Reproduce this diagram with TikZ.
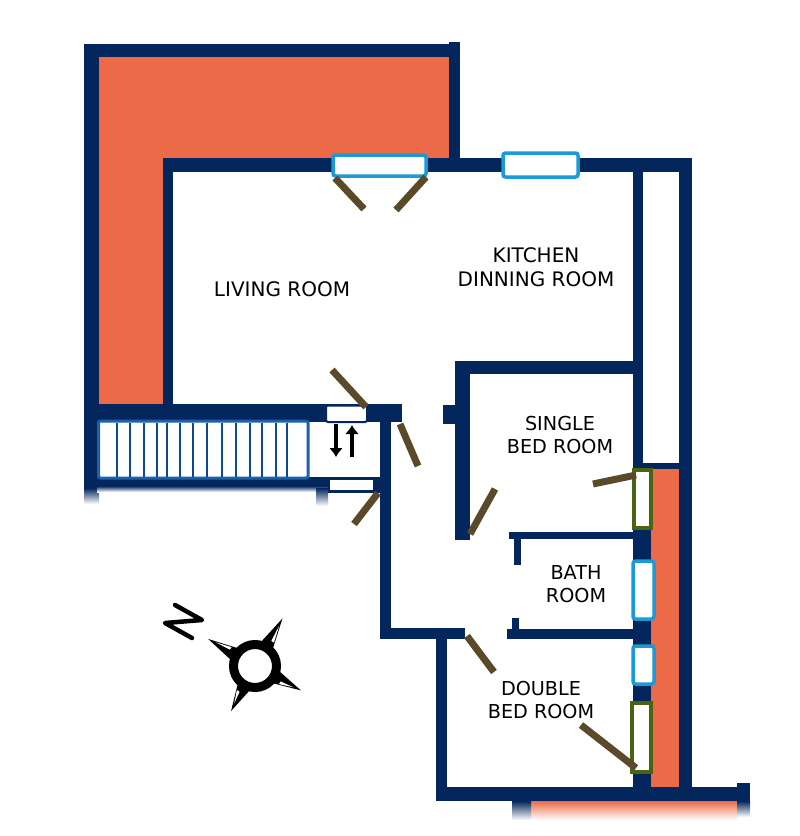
\documentclass[tikz,border=0pt]{standalone}
\usepackage{fontspec}
\usetikzlibrary{arrows.meta}
\setmainfont{DejaVu Sans}
\definecolor{wallblue}{HTML}{03265C}
\definecolor{terrace}{HTML}{EC6A47}
\definecolor{glassblue}{HTML}{1A9AD6}
\definecolor{glassgreen}{HTML}{4A6414}
\definecolor{doorbrown}{HTML}{5A4A2A}
\definecolor{stairblue}{HTML}{1A62AD}
\definecolor{stairdark}{HTML}{0E4A8E}
\tikzset{
	wall/.style={fill=wallblue},
	terr/.style={fill=terrace},
	fade/.style={top color=wallblue,bottom color=white},
	doorleaf/.style={draw=doorbrown,line width=7pt},
	bluepane/.style={draw=glassblue,fill=white,line width=3.5pt,rounded corners=2.5pt},
	greenpane/.style={draw=glassgreen,fill=white,line width=3.5pt},
	room/.style={font=\fontsize{20}{23.5}\selectfont,align=center,text=black,inner sep=0pt},
	smallroom/.style={room,font=\fontsize{19.2}{23.5}\selectfont},
}
\begin{document}
\begin{tikzpicture}[x=1pt,y=-1pt]
	\useasboundingbox[fill=white] (0,0) rectangle (800,836);
	% terraces
	\fill[terr] (99,57) -- (449,57) -- (449,159) -- (163,159) -- (163,406) -- (99,406) -- cycle;
	\fill[terr] (651,469) rectangle (679,790);
	\shade[top color=terrace,bottom color=white] (531,801) rectangle (737,820);
	% outer walls
	\fill[wall] (84,44) rectangle (449,57);
	\fill[wall] (449,42) rectangle (460,172);
	\fill[wall] (84,44) rectangle (99,488);
	\fill[wall] (163,158) rectangle (692,172);
	\fill[wall] (163,158) rectangle (173,406);
	\fill[wall] (679,159) rectangle (692,801);
	\fill[wall] (633,172) rectangle (643,470);
	\fill[wall] (643,463) rectangle (680,469);
	\fill[wall] (633,470) rectangle (651,790);
	\fill[wall] (436,787) rectangle (750,801);
	\fill[wall] (737,783) rectangle (750,801);
	\shade[fade] (737,801) rectangle (750,817);
	\shade[fade] (512,801) rectangle (531,820);
	% stairs landing
	\fill[wall] (99,404) rectangle (402,422);
	\fill[wall] (380,422) rectangle (391,639);
	\fill[wall] (97,477) rectangle (380,486);
	\shade[fade] (84,488) rectangle (99,504);
	\shade[fade] (97,486) rectangle (328,492);
	\shade[fade] (316,488) rectangle (328,506);
	\fill[white] (309,422) rectangle (380,477);
	\fill[wallblue] (328,477) rectangle (380,493);
	\fill[white] (330,480) rectangle (373,490);
	% inner walls
	\fill[wall] (380,628) rectangle (465,639);
	\fill[wall] (436,628) rectangle (447,790);
	\fill[wall] (455,361) rectangle (635,374);
	\fill[wall] (455,361) rectangle (470,540);
	\fill[wall] (443,405) rectangle (456,424);
	\fill[wall] (509,532) rectangle (635,539);
	\fill[wall] (514,532) rectangle (521,565);
	\fill[wall] (507,629) rectangle (635,639);
	\fill[wall] (512,618) rectangle (519,630);
	% stairs
	\draw[stairblue,line width=3pt,fill=white,rounded corners=2pt] (98.5,421) rectangle (308,478);
	\foreach \stepx in {117,130,144,157,167,180,193,207,222,236,250,262,276,287}
		\draw[stairdark,line width=2.5pt] (\stepx,423) -- (\stepx,477);
	% windows
	\draw[bluepane] (333,155) rectangle (426,176);
	\draw[bluepane] (503,153) rectangle (578,177);
	\draw[bluepane] (633,561) rectangle (654,619);
	\draw[bluepane] (633,646) rectangle (654,684);
	\draw[greenpane] (634,470) rectangle (651,528);
	\draw[greenpane] (632,703) rectangle (651,772);
	\draw[wallblue,line width=2pt,fill=white,rounded corners=2pt] (326,405.5) rectangle (367,422);
	% doors
	\draw[doorleaf] (335,178) -- (364,209);
	\draw[doorleaf] (426,177) -- (396,210);
	\draw[doorleaf] (366,407) -- (332,370);
	\draw[doorleaf] (400,424) -- (418,466);
	\draw[doorleaf] (378,493) -- (354,524);
	\draw[doorleaf] (470,534) -- (495,489);
	\draw[doorleaf] (636,475) -- (593,484);
	\draw[doorleaf] (467,636) -- (494,672);
	\draw[doorleaf] (636,768) -- (581,725);
	% stair arrows
	\draw[-{Latex[length=9pt,width=14pt]},line width=3.5pt] (336,424) -- (336,457);
	\draw[-{Latex[length=9pt,width=14pt]},line width=3.5pt] (352,457) -- (352,425);
	% north mark
	\draw[line width=4.5pt,line join=round,line cap=round] (175,605) -- (202,620) -- (165,623) -- (192,638);
	\begin{scope}[shift={(255,666)}]
		\foreach \spikea/\spikel in {-60/55,-150/54,-242/51,-332/52}{
			\fill (\spikea:\spikel) -- (\spikea-17:24) -- (\spikea+17:24) -- cycle;
			\fill[white] (\spikea+1:{\spikel-8}) -- (\spikea+3:30) -- (\spikea+9:30) -- cycle;
		}
		\draw[line width=9pt,fill=white] (0,0) circle (21.5);
	\end{scope}
	% labels
	\node[room] (living) at (282,289) {LIVING ROOM};
	\node[room] (kitchen) at (536,267) {KITCHEN\\DINNING ROOM};
	\node[smallroom] (single) at (560,435) {SINGLE\\BED ROOM};
	\node[smallroom] (bath) at (576,584) {BATH\\ROOM};
	\node[smallroom] (double) at (541,700) {DOUBLE\\BED ROOM};
\end{tikzpicture}
\end{document}
